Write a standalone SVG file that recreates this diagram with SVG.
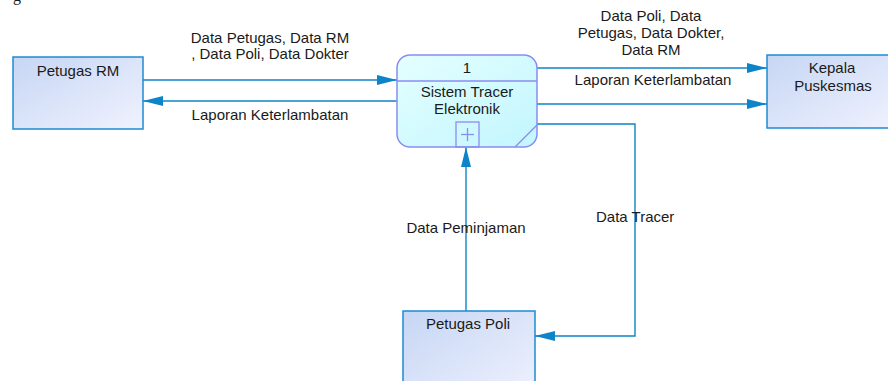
<svg xmlns="http://www.w3.org/2000/svg" width="888" height="381" viewBox="0 0 888 381">
<style>
text{font-family:"Liberation Sans",Arial,sans-serif;font-size:15px;fill:#1a1a1a}
.c{text-anchor:middle}
.ent{fill:url(#gEnt);stroke:#1e8ad2;stroke-width:1.5}
.proc{fill:url(#gProc);stroke:#8a8cf2;stroke-width:1.5}
.pl{fill:none;stroke:#8a8cf2;stroke-width:1.3}
.flow{fill:none;stroke:#0d84c8;stroke-width:1.4;marker-end:url(#ah)}
</style>
<defs>
<linearGradient id="gEnt" x1="0" y1="0" x2="1" y2="1">
<stop offset="0" stop-color="#c6d6f4"/>
<stop offset="1" stop-color="#f0f2fe"/>
</linearGradient>
<linearGradient id="gProc" x1="0" y1="0" x2="1" y2="1">
<stop offset="0" stop-color="#e4ffff"/>
<stop offset="1" stop-color="#c2f6fe"/>
</linearGradient>
<marker id="ah" markerUnits="userSpaceOnUse" markerWidth="20" markerHeight="10" refX="20" refY="5" orient="auto" viewBox="0 0 20 10">
<path d="M0,0 L20,5 L0,10 z" fill="#0d84c8"/>
</marker>
</defs>
<text x="13" y="1" style="font-family:'Liberation Serif',serif;font-size:16px">g</text>
<g id="connectors">
<path class="flow" d="M143,80 H397"/>
<path class="flow" d="M397,101 H143"/>
<path class="flow" d="M537,68 H767"/>
<path class="flow" d="M537,104 H767"/>
<path class="flow" d="M466,311 V147"/>
<path class="flow" d="M537,124 H635 V336 H535"/>
<text class="c" x="270" y="43">Data Petugas, Data RM</text>
<text class="c" x="270" y="59">, Data Poli, Data Dokter</text>
<text class="c" x="270" y="120">Laporan Keterlambatan</text>
<text class="c" x="651" y="21">Data Poli, Data</text>
<text class="c" x="651" y="38">Petugas, Data Dokter,</text>
<text class="c" x="651" y="55">Data RM</text>
<text class="c" x="653" y="85">Laporan Keterlambatan</text>
<text class="c" x="466" y="233">Data Peminjaman</text>
<text x="596" y="222">Data Tracer</text>
</g>
<g id="petugas-rm">
<rect class="ent" x="13" y="57" width="130" height="72"/>
<text class="c" x="78" y="76">Petugas RM</text>
</g>
<g id="kepala-puskesmas">
<rect class="ent" x="767" y="55" width="130" height="73"/>
<text class="c" x="832" y="73">Kepala</text>
<text class="c" x="833" y="91">Puskesmas</text>
</g>
<g id="petugas-poli">
<rect class="ent" x="403" y="311" width="132" height="90"/>
<text class="c" x="468" y="329">Petugas Poli</text>
</g>
<g id="process-1">
<rect class="proc" x="397" y="55" width="140" height="92" rx="13" ry="13"/>
<line class="pl" x1="397" y1="81" x2="537" y2="81"/>
<line class="pl" x1="515" y1="147" x2="537" y2="125"/>
<rect class="pl" x="456" y="122" width="23" height="25"/>
<line class="pl" x1="461" y1="134.5" x2="474" y2="134.5"/>
<line class="pl" x1="467.5" y1="128" x2="467.5" y2="141"/>
<text class="c" x="467" y="73">1</text>
<text class="c" x="467" y="97">Sistem Tracer</text>
<text class="c" x="467" y="114">Elektronik</text>
</g>
</svg>
